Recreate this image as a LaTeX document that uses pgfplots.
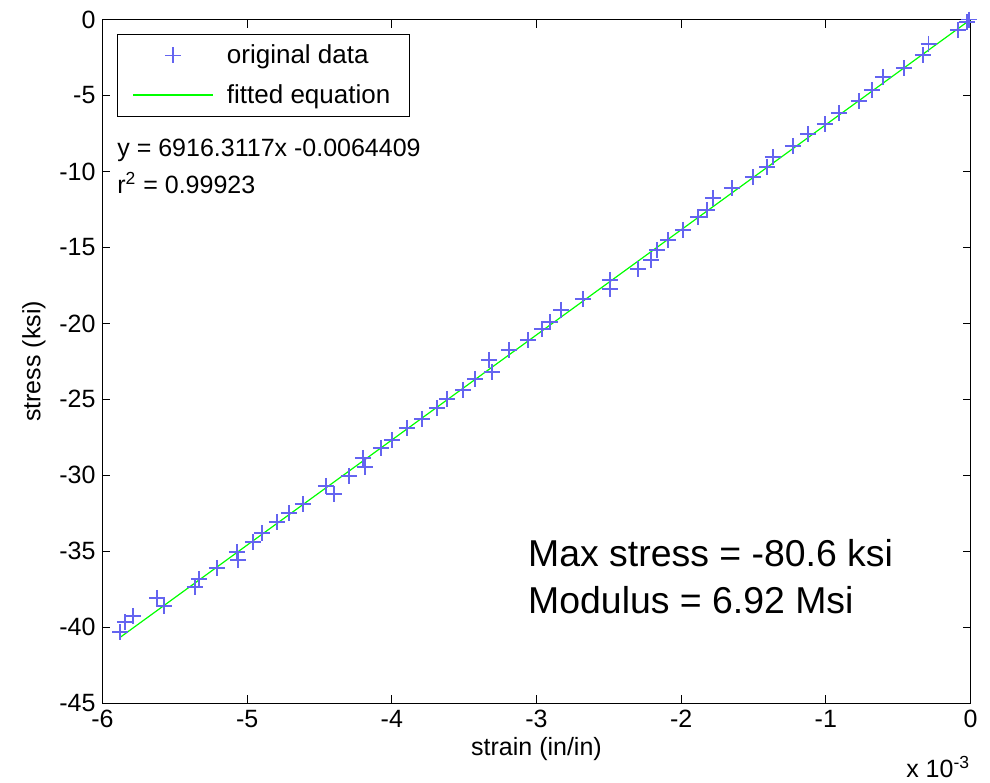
\documentclass[border=0pt]{standalone}
\usepackage{pgfplots}
\pgfplotsset{compat=1.18}
\usepackage{fontspec}
\setmainfont{Liberation Sans}
\definecolor{mblue}{RGB}{100,100,240}
\definecolor{mgreen}{RGB}{0,255,0}
\begin{document}
\begin{tikzpicture}[font=\fontsize{12.5}{15}\selectfont]
\begin{axis}[
  name=ax,
  at={(0,0)}, anchor=south west,
  scale only axis,
  width=434pt, height=341.9pt,
  xmin=-6, xmax=0, ymin=-45, ymax=0,
  xtick={-6,-5,-4,-3,-2,-1,0},
  xticklabels={-6,-5,-4,-3,-2,-1,0},
  ytick={-45,-40,-35,-30,-25,-20,-15,-10,-5,0},
  yticklabels={-45,-40,-35,-30,-25,-20,-15,-10,-5,0},
  tick label style={font=\fontsize{12.5}{15}\selectfont},
  tick align=inside,
  major tick length=4pt,
  axis line style={black, line width=0.8pt},
  tick style={black, line width=0.6pt},
  xlabel={strain (in/in)},
  ylabel={stress (ksi)},
  label style={font=\fontsize{12.5}{15}\selectfont},
  xlabel style={yshift=2pt},
  ylabel style={yshift=0pt},
  legend style={at={(0.0164,0.979)}, anchor=north west, draw=black, line width=0.6pt,
    font=\fontsize{13}{15}\selectfont, inner xsep=7.5pt, inner ysep=3pt,
    row sep=5pt, /tikz/every odd column/.append style={column sep=4.5pt}},
  legend image code/.code={\draw[mark repeat=2,mark phase=2,#1] plot coordinates {(0pt,0pt) (20pt,0pt) (40pt,0pt)};},
  legend cell align=left,
]
\addplot[only marks, mark=+, mark size=4pt, color=mblue, mark options={line width=0.8pt}] coordinates {
(-5.879,-40.30) (-5.845,-39.64) (-5.789,-39.24) (-5.623,-38.06) (-5.575,-38.59)
(-5.333,-36.81) (-5.361,-37.34) (-5.209,-36.09) (-5.071,-35.03) (-5.064,-35.56)
(-4.961,-34.38) (-4.898,-33.78) (-4.794,-33.06) (-4.711,-32.47) (-4.615,-31.88)
(-4.456,-30.69) (-4.401,-31.22) (-4.297,-30.03) (-4.200,-28.85) (-4.187,-29.44)
(-4.076,-28.19) (-4.000,-27.66) (-3.896,-26.88) (-3.793,-26.28) (-3.689,-25.56)
(-3.620,-24.97) (-3.509,-24.38) (-3.426,-23.65) (-3.329,-22.40) (-3.309,-23.19)
(-3.191,-21.74) (-3.060,-21.09) (-2.963,-20.36) (-2.908,-19.90) (-2.832,-19.11)
(-2.680,-18.39) (-2.493,-17.14) (-2.493,-17.73) (-2.300,-16.41) (-2.210,-15.82)
(-2.168,-15.16) (-2.092,-14.51) (-1.989,-13.85) (-1.885,-12.99) (-1.823,-12.53)
(-1.781,-11.74) (-1.650,-11.09) (-1.505,-10.36) (-1.408,-9.70) (-1.366,-9.05)
(-1.228,-8.32) (-1.125,-7.53) (-1.007,-6.88) (-0.910,-6.15) (-0.772,-5.36)
(-0.682,-4.64) (-0.606,-3.78) (-0.461,-3.19) (-0.330,-2.34) (-0.289,-1.61)
(-0.088,-0.69) (-0.026,-0.16) (-0.010,0.00)
};
\addlegendentry{original data}
\addplot[color=mgreen, line width=0.6pt, no marks,
  legend image code/.code={\draw[mgreen, line width=0.8pt] (0pt,0pt) -- (40pt,0pt);}] coordinates {(-5.879,-40.667) (0,-0.0064)};
\addlegendentry{fitted equation}
\node[anchor=west, inner sep=0pt] at (axis cs:-5.90,-8.59) {y = 6916.3117x -0.0064409};
\node[anchor=west, inner sep=0pt] at (axis cs:-5.90,-10.76) {r\textsuperscript{2} = 0.99923};
\node[anchor=west, inner sep=0pt, font=\fontsize{18.7}{22}\selectfont] at (axis cs:-3.06,-35.1) {Max stress = -80.6 ksi};
\node[anchor=west, inner sep=0pt, font=\fontsize{18.7}{22}\selectfont] at (axis cs:-3.06,-38.2) {Modulus = 6.92 Msi};
\end{axis}
\node[anchor=base east, inner sep=0pt] at (434pt,-37pt) {x 10\textsuperscript{-3}};
\pgfresetboundingbox
\path[use as bounding box] (-51.25pt,-39.35pt) rectangle (443.75pt,351.65pt);
\end{tikzpicture}
\end{document}
